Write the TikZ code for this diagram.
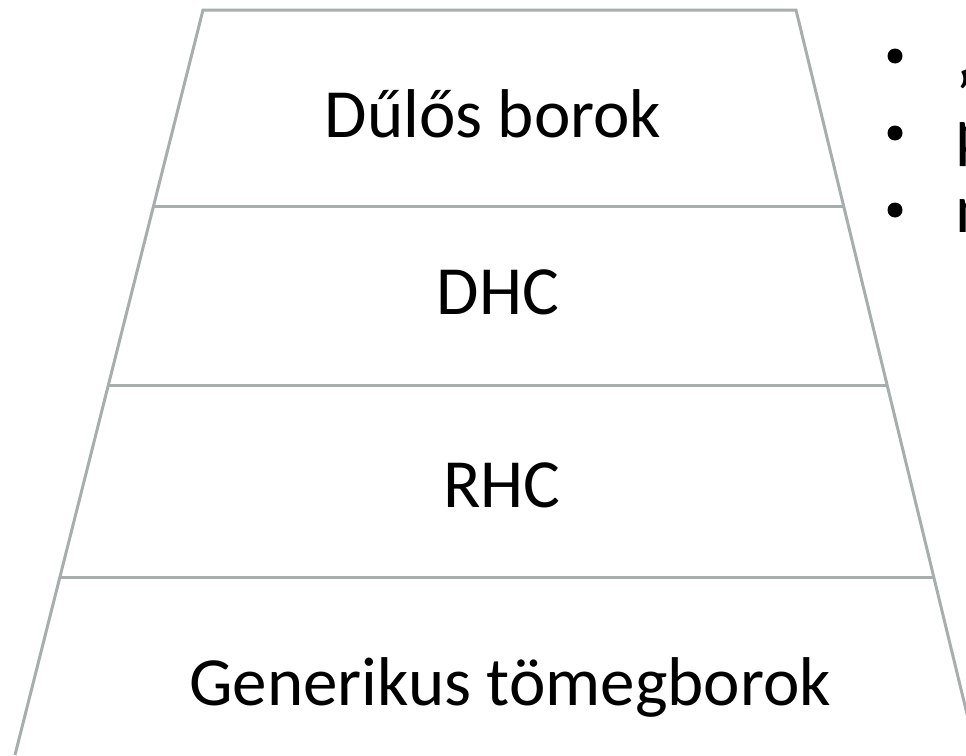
\documentclass[tikz,border=0pt]{standalone}
\usepackage{fontspec}
\setmainfont{Carlito}
\usetikzlibrary{calc}
\definecolor{bordo}{RGB}{168,174,174}
\tikzset{main base/.style={font=\fontsize{69}{83}\selectfont, inner sep=0pt}, }
\tikzset{main label/.style={main base, anchor=base}, }
\tikzset{punto label/.style={main base, anchor=base west}, }
\tikzset{punto/.style={circle, fill=black, inner sep=0pt, minimum size=15pt}, }
\tikzset{linea/.style={draw=bordo, line width=3pt}}

\begin{document}
\begin{tikzpicture}[x=1pt,y=-1pt]
  \useasboundingbox (0,0) rectangle (966,755);
  \clip (0,0) rectangle (966,755);
  % piramide
  \coordinate (tl) at (203,10);
  \coordinate (tr) at (796,10);
  \coordinate (bl) at (15,755);
  \coordinate (br) at (977,755);
  \draw[linea, line join=miter] (bl) -- (tl) -- (tr) -- (br);
  \foreach \t in {0.2644,0.5034,0.7611}
    \draw[linea] ($(tl)!\t!(bl)$) -- ($(tr)!\t!(br)$);
  %
  \node[main label] (1) at (493,137) {Dűlős borok};
  \node[main label] (2) at (498,314) {DHC};
  \node[main label] (3) at (502,507) {RHC};
  \node[main label] (4) at (510,705) {Generikus tömegborok};
  % elenco
  \node[punto] (5) at (895,56) {};
  \node[punto] (6) at (895,133) {};
  \node[punto] (7) at (895,210) {};
  \node[punto label] (8) at (955,78) {„};
  \node[punto label] (9) at (955,155) {p};
  \node[punto label] (10) at (955,232) {n};
\end{tikzpicture}
\end{document}
